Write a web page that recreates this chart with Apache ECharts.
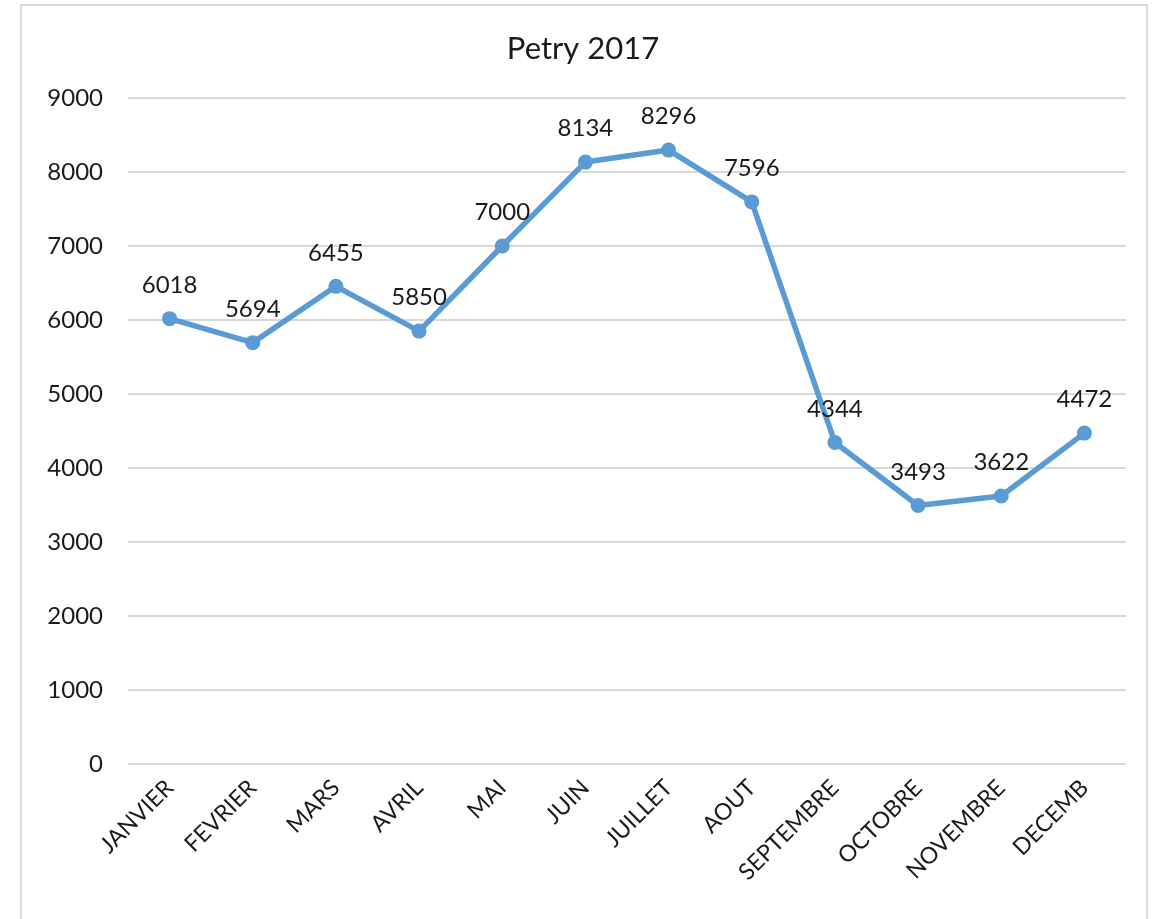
<!DOCTYPE html>
<html><head><meta charset="utf-8">
<script src="https://cdn.jsdelivr.net/npm/echarts@6/dist/echarts.min.js"></script>
<style>html,body{margin:0;padding:0;background:#fff;}#c{width:1166px;height:919px;}
#frame{position:absolute;left:20px;top:4px;width:1128px;height:930px;border:2px solid #d9d9d9;box-sizing:border-box;pointer-events:none;}</style>
</head><body><div id="c"></div><div id="frame"></div>
<script>
const title = 'Petry 2017';
const categories = ['JANVIER','FEVRIER','MARS','AVRIL','MAI','JUIN','JUILLET','AOUT','SEPTEMBRE','OCTOBRE','NOVEMBRE','DECEMB'];
const values = [6018,5694,6455,5850,7000,8134,8296,7596,4344,3493,3622,4472];
const yMin = 0, yMax = 9000, yStep = 1000;
const font = 'Lato, "Open Sans", sans-serif';
const chart = echarts.init(document.getElementById('c'));
chart.setOption({
  animation:false,
  backgroundColor:'#fff',
  title:{text:title,left:'center',top:28,textStyle:{fontFamily:font,fontSize:31,fontWeight:'normal',color:'#1a1a1a'}},
  grid:{left:128,right:40,top:98,bottom:155,containLabel:false},
  xAxis:{type:'category',data:categories,boundaryGap:true,
    axisLine:{show:false},axisTick:{show:false},
    axisLabel:{rotate:45,interval:0,fontFamily:font,fontSize:23,color:'#1a1a1a',margin:20}},
  yAxis:{type:'value',min:yMin,max:yMax,interval:yStep,
    axisLine:{show:false},axisTick:{show:false},
    splitLine:{lineStyle:{color:'#d9d9d9',width:2}},
    axisLabel:{fontFamily:font,fontSize:24,color:'#1a1a1a',margin:25,formatter:v=>String(v)}},
  series:[{type:'line',data:values,symbol:'circle',symbolSize:15,
    lineStyle:{color:'#5b9bd5',width:5.5},itemStyle:{color:'#5b9bd5'},
    label:{show:true,position:'top',distance:14,fontFamily:font,fontSize:24,color:'#1a1a1a'}}]
});
</script></body></html>
